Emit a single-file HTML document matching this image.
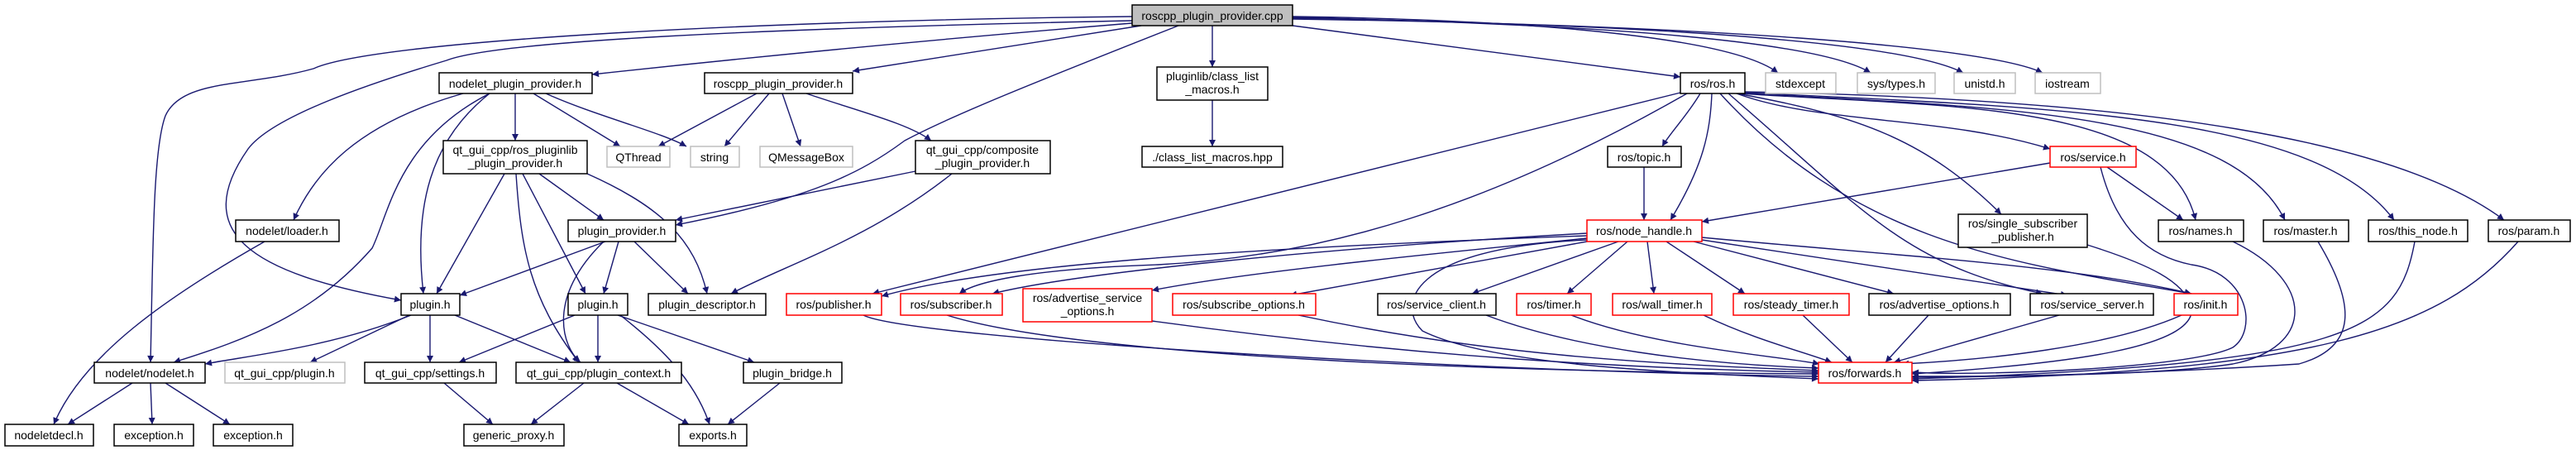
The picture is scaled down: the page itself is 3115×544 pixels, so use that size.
<!DOCTYPE html>
<html><head><meta charset="utf-8"><style>
html,body{margin:0;padding:0;background:#fff;width:3115px;height:544px;overflow:hidden}
svg{display:block}
text{font-family:"Liberation Sans","DejaVu Sans",sans-serif;font-size:14px;fill:#000}
.e{fill:none;stroke:#191970;stroke-width:1.4;marker-end:url(#a)}
.b{fill:#fff;stroke:#000;stroke-width:1.5}
.g{fill:#fff;stroke:#bfbfbf;stroke-width:1.5}
.r{fill:#fff;stroke:#ff0000;stroke-width:1.5}
</style></head><body>
<svg width="3115" height="544" viewBox="0 0 3115 544" xmlns="http://www.w3.org/2000/svg">
<defs><marker id="a" viewBox="0 0 10 10" refX="10" refY="5" markerWidth="11" markerHeight="8" markerUnits="userSpaceOnUse" orient="auto"><path d="M0,0 L10,5 L0,10 z" fill="#191970"/></marker></defs>
<g>
<path class="e" d="M1563,20 C1900,25 2100,50 2150,88"/>
<path class="e" d="M1563,21 C1950,30 2200,50 2262,88"/>
<path class="e" d="M1563,22 C2000,30 2300,50 2374,88"/>
<path class="e" d="M1563,23 C2050,30 2400,55 2470,88"/>
<path class="e" d="M1563,31 L2032,93"/>
<path class="e" d="M2056,113 C2040,140 2020,160 2010,177"/>
<path class="e" d="M2070,113 C2068,160 2060,200 2020,266"/>
<path class="e" d="M2100,113 C2200,150 2350,140 2479,180"/>
<path class="e" d="M2100,113 C2250,140 2330,170 2420,259"/>
<path class="e" d="M2105,113 C2350,130 2620,120 2655,266"/>
<path class="e" d="M2108,113 C2450,130 2700,140 2763,266"/>
<path class="e" d="M2108,112 C2500,130 2800,140 2895,266"/>
<path class="e" d="M2108,111 C2600,120 2900,170 3028,266"/>
<path class="e" d="M2090,113 C2250,250 2300,320 2470,355"/>
<path class="e" d="M2080,113 C2250,300 2450,320 2650,355"/>
<path class="e" d="M2032,112 L1055,355"/>
<path class="e" d="M2040,113 C1800,250 1600,310 1400,320 C1250,325 1180,340 1160,355"/>
<path class="e" d="M1988,202 L1988,266"/>
<path class="e" d="M2479,197 L2058,268"/>
<path class="e" d="M2548,202 L2640,266"/>
<path class="e" d="M2540,202 C2560,280 2600,310 2650,320 C2720,330 2730,400 2700,420 C2650,445 2400,455 2312,450"/>
<path class="e" d="M2524,296 C2600,320 2640,340 2650,370 C2660,420 2500,440 2312,452"/>
<path class="e" d="M2700,292 C2800,340 2800,420 2700,440 C2600,455 2400,455 2312,455"/>
<path class="e" d="M2803,292 C2850,370 2850,420 2780,440 C2600,452 2400,456 2312,456"/>
<path class="e" d="M2920,292 C2900,400 2850,440 2312,458"/>
<path class="e" d="M3045,292 C2950,400 2800,450 2312,460"/>
<path class="e" d="M2638,381 C2550,420 2400,435 2300,440"/>
<path class="e" d="M2490,381 L2290,438"/>
<path class="e" d="M2332,381 L2280,438"/>
<path class="e" d="M2180,381 L2240,438"/>
<path class="e" d="M2060,381 C2120,410 2180,425 2215,438"/>
<path class="e" d="M1900,381 C2000,420 2150,430 2200,440"/>
<path class="e" d="M1797,381 C1900,420 2050,440 2199,445"/>
<path class="e" d="M1570,381 C1800,430 2000,440 2199,448"/>
<path class="e" d="M1393,388 C1700,430 1950,445 2199,450"/>
<path class="e" d="M1145,381 C1300,430 1800,450 2199,452"/>
<path class="e" d="M1044,381 C1100,410 1800,450 2199,455"/>
<path class="e" d="M1919,285 C1500,300 1200,320 1066,358"/>
<path class="e" d="M1919,282 C1600,300 1300,330 1200,355"/>
<path class="e" d="M1919,288 C1700,310 1500,330 1393,351"/>
<path class="e" d="M1919,292 L1560,357"/>
<path class="e" d="M1957,292 L1780,355"/>
<path class="e" d="M1968,292 L1895,355"/>
<path class="e" d="M1992,292 L2000,355"/>
<path class="e" d="M2015,292 L2110,355"/>
<path class="e" d="M2048,292 L2290,355"/>
<path class="e" d="M2058,290 L2500,357"/>
<path class="e" d="M2058,287 C2300,310 2500,320 2650,355"/>
<path class="e" d="M1919,290 C1700,300 1690,370 1720,400 C1800,440 2000,450 2199,458"/>
<path class="e" d="M1369,20 C900,25 450,50 379,83 C300,105 220,95 200,140 C185,180 185,300 182,438"/>
<path class="e" d="M1369,25 C900,35 600,50 540,73 C450,100 330,140 300,180 C230,280 300,330 485,363"/>
<path class="e" d="M1369,28 C1100,50 900,70 716,90"/>
<path class="e" d="M1380,31 L1031,86"/>
<path class="e" d="M1425,31 C1250,100 1150,140 1094,170 C1040,210 980,240 817,272"/>
<path class="e" d="M915,113 L796,177"/>
<path class="e" d="M930,113 L876,177"/>
<path class="e" d="M946,113 L968,177"/>
<path class="e" d="M975,113 C1040,135 1100,150 1126,170"/>
<path class="e" d="M1107,207 L817,266"/>
<path class="e" d="M1151,210 C1050,290 950,320 884,355"/>
<path class="e" d="M1466,121 L1466,177"/>
<path class="e" d="M1466,31 L1466,81"/>
<path class="e" d="M623,113 L623,170"/>
<path class="e" d="M645,113 L750,177"/>
<path class="e" d="M660,113 C720,140 800,160 830,177"/>
<path class="e" d="M560,113 C430,150 380,210 355,266"/>
<path class="e" d="M592,113 C520,170 500,250 512,355"/>
<path class="e" d="M592,113 C480,170 470,260 450,300 C380,380 300,410 210,438"/>
<path class="e" d="M610,210 L528,355"/>
<path class="e" d="M652,210 L730,266"/>
<path class="e" d="M632,210 L708,355"/>
<path class="e" d="M624,210 C630,300 640,360 700,438"/>
<path class="e" d="M710,210 C800,250 840,290 855,355"/>
<path class="e" d="M320,292 C200,360 100,430 65,513"/>
<path class="e" d="M732,292 L556,357"/>
<path class="e" d="M748,292 L730,355"/>
<path class="e" d="M767,292 L832,355"/>
<path class="e" d="M730,292 C660,360 680,420 702,438"/>
<path class="e" d="M497,381 C400,420 300,430 248,440"/>
<path class="e" d="M495,381 L375,438"/>
<path class="e" d="M520,381 L520,438"/>
<path class="e" d="M550,381 L690,438"/>
<path class="e" d="M695,381 L555,438"/>
<path class="e" d="M723,381 L723,438"/>
<path class="e" d="M747,381 L912,438"/>
<path class="e" d="M750,381 C800,420 840,460 858,513"/>
<path class="e" d="M160,463 L82,513"/>
<path class="e" d="M182,463 L184,513"/>
<path class="e" d="M200,463 L278,513"/>
<path class="e" d="M537,463 L596,513"/>
<path class="e" d="M706,463 L642,513"/>
<path class="e" d="M746,463 L833,513"/>
<path class="e" d="M943,463 L880,513"/>
</g>
<g>
<rect x="1369" y="6" width="194" height="25" fill="#bfbfbf" stroke="#000" stroke-width="1.5"/><text x="1466" y="24" text-anchor="middle">roscpp_plugin_provider.cpp</text>
<rect class="b" x="531" y="88" width="185" height="25"/><text x="623" y="106" text-anchor="middle">nodelet_plugin_provider.h</text>
<rect class="b" x="852" y="88" width="179" height="25"/><text x="941" y="106" text-anchor="middle">roscpp_plugin_provider.h</text>
<rect class="b" x="536" y="170" width="174" height="40"/><text x="623" y="186" text-anchor="middle">qt_gui_cpp/ros_pluginlib</text><text x="623" y="202" text-anchor="middle">_plugin_provider.h</text>
<rect class="g" x="734" y="177" width="76" height="25"/><text x="772" y="195" text-anchor="middle">QThread</text>
<rect class="g" x="835" y="177" width="59" height="25"/><text x="864" y="195" text-anchor="middle">string</text>
<rect class="g" x="919" y="177" width="112" height="25"/><text x="975" y="195" text-anchor="middle">QMessageBox</text>
<rect class="b" x="285" y="266" width="125" height="26"/><text x="347" y="284" text-anchor="middle">nodelet/loader.h</text>
<rect class="b" x="687" y="266" width="130" height="26"/><text x="752" y="284" text-anchor="middle">plugin_provider.h</text>
<rect class="b" x="485" y="355" width="71" height="26"/><text x="520" y="373" text-anchor="middle">plugin.h</text>
<rect class="b" x="687" y="355" width="72" height="26"/><text x="723" y="373" text-anchor="middle">plugin.h</text>
<rect class="b" x="784" y="355" width="142" height="26"/><text x="855" y="373" text-anchor="middle">plugin_descriptor.h</text>
<rect class="r" x="951" y="355" width="115" height="26"/><text x="1008" y="373" text-anchor="middle">ros/publisher.h</text>
<rect class="b" x="114" y="438" width="134" height="25"/><text x="181" y="456" text-anchor="middle">nodelet/nodelet.h</text>
<rect class="g" x="272" y="438" width="145" height="25"/><text x="344" y="456" text-anchor="middle">qt_gui_cpp/plugin.h</text>
<rect class="b" x="441" y="438" width="159" height="25"/><text x="520" y="456" text-anchor="middle">qt_gui_cpp/settings.h</text>
<rect class="b" x="624" y="438" width="200" height="25"/><text x="724" y="456" text-anchor="middle">qt_gui_cpp/plugin_context.h</text>
<rect class="b" x="899" y="438" width="119" height="25"/><text x="958" y="456" text-anchor="middle">plugin_bridge.h</text>
<rect class="b" x="6" y="513" width="107" height="26"/><text x="59" y="531" text-anchor="middle">nodeletdecl.h</text>
<rect class="b" x="138" y="513" width="96" height="26"/><text x="186" y="531" text-anchor="middle">exception.h</text>
<rect class="b" x="258" y="513" width="96" height="26"/><text x="306" y="531" text-anchor="middle">exception.h</text>
<rect class="b" x="561" y="513" width="121" height="26"/><text x="621" y="531" text-anchor="middle">generic_proxy.h</text>
<rect class="b" x="821" y="513" width="82" height="26"/><text x="862" y="531" text-anchor="middle">exports.h</text>
<rect class="b" x="1399" y="81" width="134" height="40"/><text x="1466" y="97" text-anchor="middle">pluginlib/class_list</text><text x="1466" y="113" text-anchor="middle">_macros.h</text>
<rect class="b" x="1381" y="177" width="170" height="25"/><text x="1466" y="195" text-anchor="middle">./class_list_macros.hpp</text>
<rect class="b" x="1107" y="170" width="163" height="40"/><text x="1188" y="186" text-anchor="middle">qt_gui_cpp/composite</text><text x="1188" y="202" text-anchor="middle">_plugin_provider.h</text>
<rect class="b" x="2032" y="88" width="78" height="25"/><text x="2071" y="106" text-anchor="middle">ros/ros.h</text>
<rect class="b" x="1944" y="177" width="89" height="25"/><text x="1988" y="195" text-anchor="middle">ros/topic.h</text>
<rect class="r" x="1919" y="266" width="139" height="26"/><text x="1988" y="284" text-anchor="middle">ros/node_handle.h</text>
<rect class="r" x="1089" y="355" width="123" height="26"/><text x="1150" y="373" text-anchor="middle">ros/subscriber.h</text>
<rect class="r" x="1237" y="349" width="156" height="40"/><text x="1315" y="365" text-anchor="middle">ros/advertise_service</text><text x="1315" y="381" text-anchor="middle">_options.h</text>
<rect class="r" x="1418" y="355" width="173" height="26"/><text x="1504" y="373" text-anchor="middle">ros/subscribe_options.h</text>
<rect class="b" x="1666" y="355" width="143" height="26"/><text x="1737" y="373" text-anchor="middle">ros/service_client.h</text>
<rect class="r" x="1834" y="355" width="90" height="26"/><text x="1879" y="373" text-anchor="middle">ros/timer.h</text>
<rect class="r" x="1950" y="355" width="120" height="26"/><text x="2010" y="373" text-anchor="middle">ros/wall_timer.h</text>
<rect class="r" x="2096" y="355" width="140" height="26"/><text x="2166" y="373" text-anchor="middle">ros/steady_timer.h</text>
<rect class="b" x="2260" y="355" width="171" height="26"/><text x="2345" y="373" text-anchor="middle">ros/advertise_options.h</text>
<rect class="b" x="2455" y="355" width="149" height="26"/><text x="2530" y="373" text-anchor="middle">ros/service_server.h</text>
<rect class="r" x="2629" y="355" width="77" height="26"/><text x="2667" y="373" text-anchor="middle">ros/init.h</text>
<rect class="r" x="2199" y="438" width="113" height="25"/><text x="2255" y="456" text-anchor="middle">ros/forwards.h</text>
<rect class="g" x="2135" y="88" width="85" height="25"/><text x="2177" y="106" text-anchor="middle">stdexcept</text>
<rect class="g" x="2246" y="88" width="94" height="25"/><text x="2293" y="106" text-anchor="middle">sys/types.h</text>
<rect class="g" x="2363" y="88" width="74" height="25"/><text x="2400" y="106" text-anchor="middle">unistd.h</text>
<rect class="g" x="2461" y="88" width="79" height="25"/><text x="2500" y="106" text-anchor="middle">iostream</text>
<rect class="r" x="2479" y="177" width="104" height="25"/><text x="2531" y="195" text-anchor="middle">ros/service.h</text>
<rect class="b" x="2368" y="259" width="156" height="40"/><text x="2446" y="275" text-anchor="middle">ros/single_subscriber</text><text x="2446" y="291" text-anchor="middle">_publisher.h</text>
<rect class="b" x="2610" y="266" width="103" height="26"/><text x="2661" y="284" text-anchor="middle">ros/names.h</text>
<rect class="b" x="2737" y="266" width="103" height="26"/><text x="2788" y="284" text-anchor="middle">ros/master.h</text>
<rect class="b" x="2864" y="266" width="120" height="26"/><text x="2924" y="284" text-anchor="middle">ros/this_node.h</text>
<rect class="b" x="3009" y="266" width="99" height="26"/><text x="3058" y="284" text-anchor="middle">ros/param.h</text>
</g>
</svg>
</body></html>
